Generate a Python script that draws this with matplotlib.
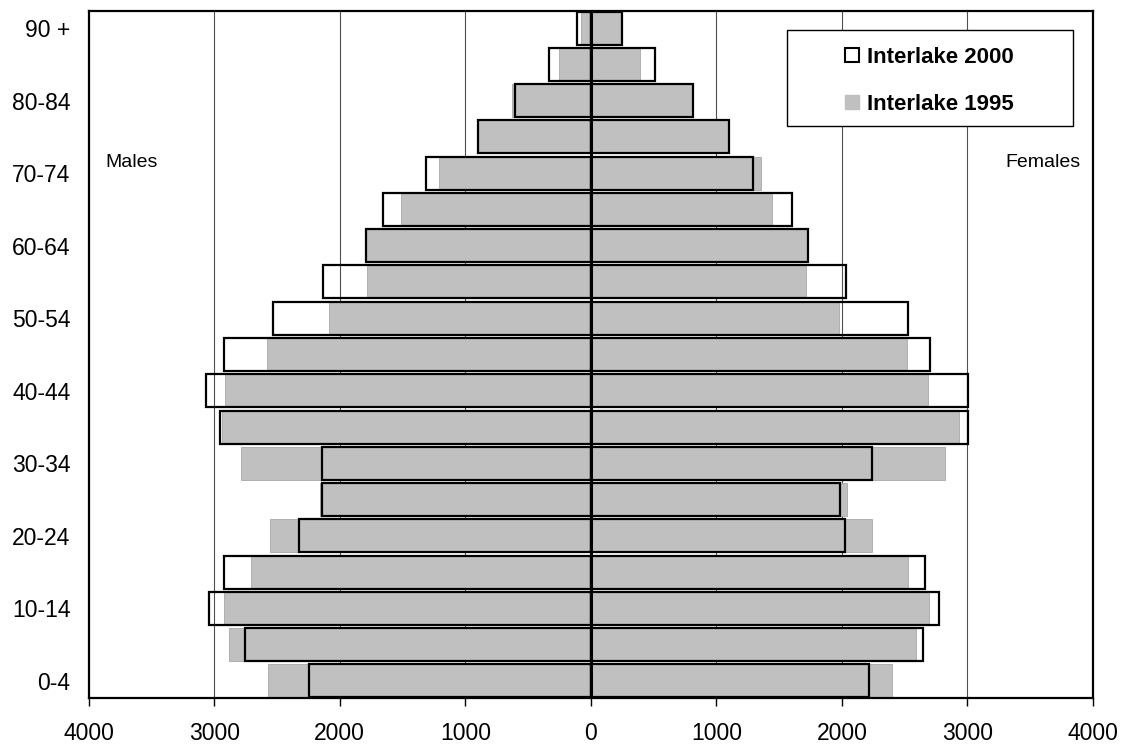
import matplotlib
matplotlib.use("Agg")
import matplotlib.pyplot as plt
from matplotlib.patches import Rectangle, Patch
import numpy as np

plt.rcParams['font.family'] = ['Liberation Sans', 'DejaVu Sans']

categories = ['0-4', '5-9', '10-14', '15-19', '20-24', '25-29', '30-34', '35-39',
              '40-44', '45-49', '50-54', '55-59', '60-64', '65-69', '70-74',
              '75-79', '80-84', '85-89', '90 +']
male_2000 = [2243, 2757, 3044, 2919, 2325, 2140, 2142, 2954, 3068, 2925, 2529, 2136,
             1789, 1654, 1314, 902, 602, 337, 114]
male_1995 = [2572, 2882, 2922, 2707, 2556, 2160, 2787, 2940, 2914, 2580, 2086, 1783,
             1789, 1513, 1210, 900, 626, 255, 80]
female_2000 = [2216, 2646, 2773, 2665, 2028, 1985, 2243, 3007, 3007, 2705, 2527, 2033,
               1730, 1600, 1290, 1099, 815, 512, 250]
female_1995 = [2397, 2588, 2691, 2524, 2243, 2044, 2818, 2930, 2683, 2516, 1975, 1712,
               1725, 1441, 1354, 1095, 802, 390, 245]
x_ticks = [-4000, -3000, -2000, -1000, 0, 1000, 2000, 3000, 4000]

fig = plt.figure(figsize=(11.31, 7.46), dpi=100)
ax = fig.add_axes([0.0784, 0.0643, 0.888, 0.921])

y = np.arange(len(categories))
h = 0.91
gray = '#c0c0c0'

ax.barh(y, -np.array(male_1995), height=h, color=gray, edgecolor='#a8a8a8', lw=0.6, zorder=2)
ax.barh(y, female_1995, height=h, color=gray, edgecolor='#a8a8a8', lw=0.6, zorder=2)
ax.barh(y, -np.array(male_2000), height=h, facecolor='none', edgecolor='black', lw=1.6, zorder=3)
ax.barh(y, female_2000, height=h, facecolor='none', edgecolor='black', lw=1.6, zorder=3)

ax.axvline(0, color='black', lw=2.2, zorder=4)
for g in [-3000, -2000, -1000, 1000, 2000, 3000]:
    ax.axvline(g, color='#505050', lw=0.8, zorder=1)

ax.set_xlim(-4000, 4000)
ax.set_ylim(-0.47, len(categories) - 0.53)
ax.set_xticks(x_ticks)
ax.set_xticklabels([str(abs(v)) for v in x_ticks])
ax.set_yticks(y[::2])
ax.set_yticklabels(categories[::2])
ax.tick_params(axis='x', length=6, width=1, direction='out', pad=11, labelsize=16.5)
ax.tick_params(axis='y', length=0, pad=13, labelsize=16.5)
for s in ax.spines.values():
    s.set_linewidth(1.6)
    s.set_color('black')

ax.text(0.017, 0.78, 'Males', transform=ax.transAxes, fontsize=14, ha='left', va='center')
ax.text(0.988, 0.78, 'Females', transform=ax.transAxes, fontsize=14, ha='right', va='center')

# legend frame
x0, x1 = 786.7 / 1131, 1072.7 / 1131
y0, y1 = 1 - 126 / 746, 1 - 30 / 746
fig.patches.append(Rectangle((x0, y0), x1 - x0, y1 - y0, transform=fig.transFigure,
                             facecolor='white', edgecolor='black', lw=1.0, zorder=5))
handles = [Patch(facecolor='white', edgecolor='black', lw=1.5, label='Interlake 2000'),
           Patch(facecolor=gray, edgecolor=gray, label='Interlake 1995')]
leg = fig.legend(handles=handles, loc='center',
                 bbox_to_anchor=((x0 + x1) / 2, (y0 + y1) / 2 - 0.004),
                 bbox_transform=fig.transFigure, frameon=False,
                 prop={'weight': 'bold', 'size': 16}, handlelength=0.6, handleheight=0.6,
                 handletextpad=0.4, labelspacing=1.15)
leg.set_zorder(6)

fig.savefig('out.png', dpi=100)
